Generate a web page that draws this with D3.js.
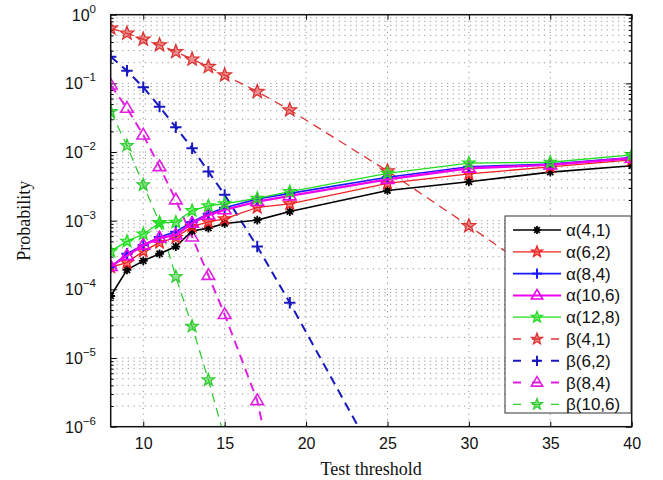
<!DOCTYPE html>
<html>
<head>
<meta charset="utf-8">
<script src="https://cdn.jsdelivr.net/npm/d3@7"></script>
<style>
  html, body { margin: 0; padding: 0; background: #fff; }
  svg { display: block; }
</style>
</head>
<body>
<svg id="chart" width="663" height="480"></svg>
<script>
// ---------------- data ----------------
const thresholds = [8, 9, 10, 11, 12, 13, 14, 15, 17, 19, 25, 30, 35, 40];
const xTicks = [10, 15, 20, 25, 30, 35, 40];
const yExponents = [0, -1, -2, -3, -4, -5, -6];

const alpha41  = [8.0e-5, 1.92e-4, 2.6e-4, 3.3e-4, 4.2e-4, 7.1e-4, 7.8e-4, 9.1e-4, 1.02e-3, 1.36e-3, 2.76e-3, 3.7e-3, 5.1e-3, 6.3e-3];
const alpha62  = [2.1e-4, 2.45e-4, 3.6e-4, 4.8e-4, 5.7e-4, 8.2e-4, 9.6e-4, 1.06e-3, 1.56e-3, 1.76e-3, 3.5e-3, 4.8e-3, 6.1e-3, 7.7e-3];
const alpha84  = [2.1e-4, 3.3e-4, 4.4e-4, 5.8e-4, 6.9e-4, 9.6e-4, 1.26e-3, 1.54e-3, 2.07e-3, 2.5e-3, 4.3e-3, 6.1e-3, 6.7e-3, 8.3e-3];
const alpha106 = [2.15e-4, 3.1e-4, 4.4e-4, 5.6e-4, 6.2e-4, 9.2e-4, 1.21e-3, 1.44e-3, 1.9e-3, 2.3e-3, 4.0e-3, 5.8e-3, 6.5e-3, 8.1e-3];
const alpha128 = [3.6e-4, 5.0e-4, 6.4e-4, 9.2e-4, 9.5e-4, 1.4e-3, 1.64e-3, 1.76e-3, 2.12e-3, 2.65e-3, 4.9e-3, 6.9e-3, 7.1e-3, 9.1e-3];

const beta41  = [0.634, 0.536, 0.438, 0.362, 0.289, 0.224, 0.175, 0.132, 0.0757, 0.041, 5.3e-3, 8.4e-4, 1.25e-4, 1.78e-5];
const beta62  = [0.245, 0.153, 0.0877, 0.0458, 0.023, 0.01136, 5.19e-3, 2.38e-3, 4.2e-4, 6.4e-5, 1.7e-7, null, null, null];
const beta84  = [0.0948, 0.0434, 0.0177, 6.12e-3, 2.01e-3, 5.8e-4, 1.6e-4, 4.3e-5, 2.4e-6, 1.6e-8, null, null, null, null];
const beta106 = [0.0387, 0.0124, 3.32e-3, 9.4e-4, 1.53e-4, 2.9e-5, 4.8e-6, 6.8e-7, null, null, null, null, null, null];

const seriesNames = ["α(4,1)", "α(6,2)", "α(8,4)", "α(10,6)", "α(12,8)", "β(4,1)", "β(6,2)", "β(8,4)", "β(10,6)"];

// ---------------- styles ----------------
const styles = [
  { values: alpha41,  color: "#000000", dash: null,  marker: "asterisk", width: 1.6 },
  { values: alpha62,  color: "#ee2222", dash: null,  marker: "star",     width: 1.3 },
  { values: alpha84,  color: "#1a1aff", dash: null,  marker: "plus",     width: 1.6 },
  { values: alpha106, color: "#ee00ee", dash: null,  marker: "triangle", width: 2.4 },
  { values: alpha128, color: "#22dd22", dash: null,  marker: "star",     width: 1.3 },
  { values: beta41,   color: "#dd3333", dash: "9,6", marker: "star",     width: 1.3 },
  { values: beta62,   color: "#1818c0", dash: "9,6", marker: "plus",     width: 2 },
  { values: beta84,   color: "#e020e0", dash: "9,6", marker: "triangle", width: 2 },
  { values: beta106,  color: "#33cc33", dash: "9,6", marker: "star",     width: 1.3 }
];

const pLeft = 110.7, pRight = 631.7, pTop = 14.7, pBottom = 426.7;
const svg = d3.select("#chart");

const x = d3.scaleLinear().domain([8, 40]).range([pLeft, pRight]);
const y = d3.scaleLog().domain([1e-6, 1]).range([pBottom, pTop]);

// ---------------- grid ----------------
const grid = svg.append("g");
const minorVals = [];
for (let e = -6; e < 0; e++) for (let m = 1; m <= 9; m++) minorVals.push(m * Math.pow(10, e));
grid.selectAll("line.h").data(minorVals.filter(v => v > 1e-6)).join("line")
  .attr("x1", pLeft).attr("x2", pRight)
  .attr("y1", d => y(d)).attr("y2", d => y(d))
  .attr("stroke", "#8a8a8a").attr("stroke-width", 0.9)
  .attr("stroke-dasharray", "1.2,4.5");
grid.selectAll("line.v").data(xTicks.filter(t => t < 40)).join("line")
  .attr("x1", d => x(d)).attr("x2", d => x(d))
  .attr("y1", pTop).attr("y2", pBottom)
  .attr("stroke", "#8a8a8a").attr("stroke-width", 0.9)
  .attr("stroke-dasharray", "1.2,4.5");

// ---------------- axes ----------------
const axisFont = "'Liberation Sans', Arial, sans-serif";
const xAxis = svg.append("g").attr("transform", `translate(0,${pBottom})`)
  .call(d3.axisBottom(x).tickValues(xTicks).tickSizeInner(-5).tickSizeOuter(0).tickPadding(11).tickFormat(d3.format("d")));
xAxis.select(".domain").remove();
xAxis.selectAll("line").attr("stroke", "#000");
xAxis.selectAll("text").attr("font-family", axisFont).attr("font-size", 16).attr("fill", "#111");

const xAxisTop = svg.append("g").attr("transform", `translate(0,${pTop})`)
  .call(d3.axisTop(x).tickValues(xTicks).tickSizeInner(-5).tickSizeOuter(0).tickFormat(""));
xAxisTop.select(".domain").remove();

const majorY = yExponents.map(e => Math.pow(10, e));
const minorOnly = minorVals.filter(v => v > 1e-6 && !majorY.some(m => Math.abs(v / m - 1) < 1e-9));
const yAxisL = svg.append("g").attr("transform", `translate(${pLeft},0)`)
  .call(d3.axisLeft(y).tickValues(majorY).tickSizeInner(-6).tickSizeOuter(0).tickFormat(""));
yAxisL.select(".domain").remove();
const yAxisLm = svg.append("g").attr("transform", `translate(${pLeft},0)`)
  .call(d3.axisLeft(y).tickValues(minorOnly).tickSizeInner(-3).tickSizeOuter(0).tickFormat(""));
yAxisLm.select(".domain").remove();
const yAxisR = svg.append("g").attr("transform", `translate(${pRight},0)`)
  .call(d3.axisRight(y).tickValues(majorY).tickSizeInner(-6).tickSizeOuter(0).tickFormat(""));
yAxisR.select(".domain").remove();
const yAxisRm = svg.append("g").attr("transform", `translate(${pRight},0)`)
  .call(d3.axisRight(y).tickValues(minorOnly).tickSizeInner(-3).tickSizeOuter(0).tickFormat(""));
yAxisRm.select(".domain").remove();

// y tick labels 10^e
const yl = svg.append("g");
yExponents.forEach(e => {
  const t = yl.append("text")
    .attr("x", 96).attr("y", y(Math.pow(10, e)) + 6)
    .attr("text-anchor", "end")
    .attr("font-family", axisFont).attr("font-size", 16).attr("fill", "#111");
  t.append("tspan").text("10");
  t.append("tspan").attr("dy", -8).attr("font-size", 11.5).text(e === 0 ? "0" : "−" + Math.abs(e));
});

// ---------------- markers ----------------
function drawMarker(g, type, color, cx, cy, s) {
  s = s || 1;
  if (type === "asterisk") {
    const r = 4.6 * s;
    [0, 45, 90, 135].forEach(a => {
      const rad = a * Math.PI / 180;
      g.append("line")
        .attr("x1", cx - r * Math.cos(rad)).attr("y1", cy - r * Math.sin(rad))
        .attr("x2", cx + r * Math.cos(rad)).attr("y2", cy + r * Math.sin(rad))
        .attr("stroke", color).attr("stroke-width", 1.8);
    });
    g.append("circle").attr("cx", cx).attr("cy", cy).attr("r", 2.6 * s).attr("fill", color);
  } else if (type === "plus") {
    const r = 6 * s;
    g.append("line").attr("x1", cx - r).attr("x2", cx + r).attr("y1", cy).attr("y2", cy)
      .attr("stroke", color).attr("stroke-width", 2);
    g.append("line").attr("x1", cx).attr("x2", cx).attr("y1", cy - r).attr("y2", cy + r)
      .attr("stroke", color).attr("stroke-width", 2);
  } else if (type === "triangle") {
    const r = 7 * s;
    const pts = [[cx, cy - r], [cx + r * 0.95, cy + r * 0.6], [cx - r * 0.95, cy + r * 0.6]];
    g.append("path").attr("d", "M" + pts.map(p => p.join(",")).join("L") + "Z")
      .attr("fill", "none").attr("stroke", color).attr("stroke-width", 1.6);
  } else if (type === "star") {
    const R = 6.8 * s, r = R * 0.42;
    const pts = [];
    for (let i = 0; i < 10; i++) {
      const ang = -Math.PI / 2 + i * Math.PI / 5;
      const rr = i % 2 === 0 ? R : r;
      pts.push([cx + rr * Math.cos(ang), cy + rr * Math.sin(ang)]);
    }
    g.append("path").attr("d", "M" + pts.map(p => p.join(",")).join("L") + "Z")
      .attr("fill", color).attr("fill-opacity", 0.55).attr("stroke", color).attr("stroke-width", 1.3);
  }
}

// ---------------- series ----------------
svg.append("defs").append("clipPath").attr("id", "plotclip")
  .append("rect").attr("x", pLeft).attr("y", pTop).attr("width", pRight - pLeft).attr("height", pBottom - pTop);

const plot = svg.append("g").attr("clip-path", "url(#plotclip)");
const line = d3.line()
  .defined(d => d.v != null)
  .x(d => x(d.t)).y(d => y(d.v));

// draw beta first (behind), then alpha
const order = [5, 6, 7, 8, 0, 1, 2, 3, 4];
order.forEach(i => {
  const st = styles[i];
  const pts = thresholds.map((t, k) => ({ t: t, v: st.values[k] }));
  plot.append("path").datum(pts)
    .attr("d", line)
    .attr("fill", "none").attr("stroke", st.color)
    .attr("stroke-width", st.width)
    .attr("stroke-dasharray", st.dash);
  const mg = plot.append("g");
  pts.filter(p => p.v != null && p.v >= 1e-6 * 0.8).forEach(p => {
    drawMarker(mg, st.marker, st.color, x(p.t), y(p.v), st.marker === "star" && i >= 5 && i !== 8 ? 1.05 : 0.95);
  });
});

// ---------------- frame ----------------
svg.append("rect").attr("x", pLeft).attr("y", pTop).attr("width", pRight - pLeft).attr("height", pBottom - pTop)
  .attr("fill", "none").attr("stroke", "#111").attr("stroke-width", 1.5);

// ---------------- legend ----------------
const lg = svg.append("g");
const lgX = 505, lgY = 216, lgW = 126, lgH = 197;
lg.append("rect").attr("x", lgX).attr("y", lgY).attr("width", lgW).attr("height", lgH)
  .attr("fill", "#fff").attr("stroke", "#333").attr("stroke-width", 1);
seriesNames.forEach((name, i) => {
  const st = styles[i];
  const cy = 230 + i * 21.8;
  const row = lg.append("g");
  row.append("line").attr("x1", 513).attr("x2", 561).attr("y1", cy).attr("y2", cy)
    .attr("stroke", st.color).attr("stroke-width", Math.min(st.width, 2))
    .attr("stroke-dasharray", st.dash ? "8,11" : null);
  drawMarker(row, st.marker, st.color, 537, cy, 0.85);
  row.append("text").attr("x", 566).attr("y", cy + 6)
    .attr("font-family", axisFont).attr("font-size", 17).attr("fill", "#111")
    .text(name);
});

// ---------------- titles ----------------
const serif = "'Liberation Serif', 'Times New Roman', serif";
svg.append("text").attr("x", (pLeft + pRight) / 2).attr("y", 475)
  .attr("text-anchor", "middle").attr("font-family", serif).attr("font-size", 18).attr("fill", "#111")
  .text("Test threshold");
svg.append("text").attr("transform", `translate(30,${(pTop + pBottom) / 2}) rotate(-90)`)
  .attr("text-anchor", "middle").attr("font-family", serif).attr("font-size", 18).attr("fill", "#111")
  .text("Probability");
</script>
</body>
</html>
